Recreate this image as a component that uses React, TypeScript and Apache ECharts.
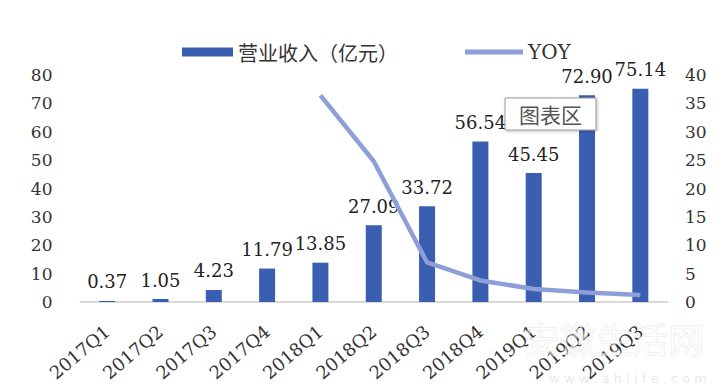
import React, { useEffect, useRef } from "react";
import * as echarts from "echarts";

const categories = ["2017Q1", "2017Q2", "2017Q3", "2017Q4", "2018Q1", "2018Q2", "2018Q3", "2018Q4", "2019Q1", "2019Q2", "2019Q3"];
const revenue = [0.37, 1.05, 4.23, 11.79, 13.85, 27.09, 33.72, 56.54, 45.45, 72.9, 75.14];
const yoy = [null, null, null, null, 36.4, 24.8, 6.97, 3.8, 2.28, 1.69, 1.23];
const leftTicks = { min: 0, max: 80, interval: 10 };
const rightTicks = { min: 0, max: 40, interval: 5 };

const SERIF = "'DejaVu Serif', 'Liberation Serif', serif";
const CJK = "'Noto Sans CJK SC', sans-serif";

export default function App() {
  const ref = useRef<HTMLDivElement>(null);
  useEffect(() => {
    if (!ref.current) return;
    const chart = echarts.init(ref.current, undefined, { renderer: "svg" });
    chart.setOption({
      animation: false,
      backgroundColor: "#ffffff",
      grid: { left: 80.5, right: 56, top: 75, bottom: 85, containLabel: false },
      legend: [
        {
          data: [{ name: "营业收入（亿元）", icon: "rect" }],
          left: 177,
          top: 37,
          itemWidth: 51,
          itemHeight: 9,
          textStyle: { fontFamily: CJK, fontSize: 20, color: "#333" },
        },
        {
          data: [{ name: "YOY", icon: "rect" }],
          left: 460,
          top: 37,
          itemWidth: 58,
          itemHeight: 5,
          textStyle: { fontFamily: SERIF, fontSize: 20, color: "#333" },
        },
      ],
      xAxis: {
        type: "category",
        data: categories,
        axisLine: { lineStyle: { color: "#d9d9d9", width: 2 } },
        axisTick: { show: false },
        axisLabel: { rotate: 40, margin: 27, fontFamily: SERIF, fontSize: 18, color: "#333", interval: 0 },
      },
      yAxis: [
        {
          type: "value",
          ...leftTicks,
          splitLine: { show: false },
          axisLine: { show: false },
          axisTick: { show: false },
          axisLabel: { margin: 28, fontFamily: SERIF, fontSize: 17, color: "#333" },
        },
        {
          type: "value",
          ...rightTicks,
          splitLine: { show: false },
          axisLine: { show: false },
          axisTick: { show: false },
          axisLabel: { margin: 18, fontFamily: SERIF, fontSize: 17, color: "#333" },
        },
      ],
      series: [
        {
          name: "营业收入（亿元）",
          type: "bar",
          data: revenue,
          barWidth: 16,
          itemStyle: { color: "#3a5eb0" },
          label: {
            show: true,
            position: "top",
            distance: 10,
            fontFamily: SERIF,
            fontSize: 18,
            color: "#222",
            formatter: (p: any) => Number(p.value).toFixed(2),
          },
          z: 2,
        },
        {
          name: "YOY",
          type: "line",
          yAxisIndex: 1,
          data: yoy,
          symbol: "none",
          showSymbol: false,
          lineStyle: { color: "#8d9ed8", width: 4.5 },
          itemStyle: { color: "#8d9ed8" },
          z: 3,
        },
      ],
      graphic: [
        {
          type: "rect",
          shape: { x: 505, y: 98, width: 91, height: 32 },
          style: { fill: "#ffffff", stroke: "#9a9a9a", lineWidth: 1, shadowBlur: 3, shadowColor: "rgba(0,0,0,0.25)", shadowOffsetX: 1, shadowOffsetY: 1 },
          z: 100,
        },
        {
          type: "text",
          x: 550.5,
          y: 114,
          style: { text: "图表区", fontFamily: CJK, fontSize: 21, fill: "#555", align: "center", verticalAlign: "middle" },
          z: 101,
        },
        {
          type: "text",
          x: 614,
          y: 338,
          style: { text: "安徽生活网", fontFamily: CJK, fontSize: 36, fill: "rgba(255,255,255,0.5)", stroke: "rgba(170,170,170,0.25)", lineWidth: 1, align: "center", verticalAlign: "middle" },
          z: 50,
        },
        {
          type: "text",
          x: 628,
          y: 378,
          style: { text: "w w w . a h l i f e . c o m", fontFamily: "'DejaVu Sans', sans-serif", fontSize: 13, fill: "rgba(190,190,190,0.35)", align: "center", verticalAlign: "middle" },
          z: 50,
        },
      ],
    });
    return () => chart.dispose();
  }, []);
  return <div ref={ref} style={{ position: "fixed", left: 0, top: 0, width: 723, height: 387 }} />;
}
